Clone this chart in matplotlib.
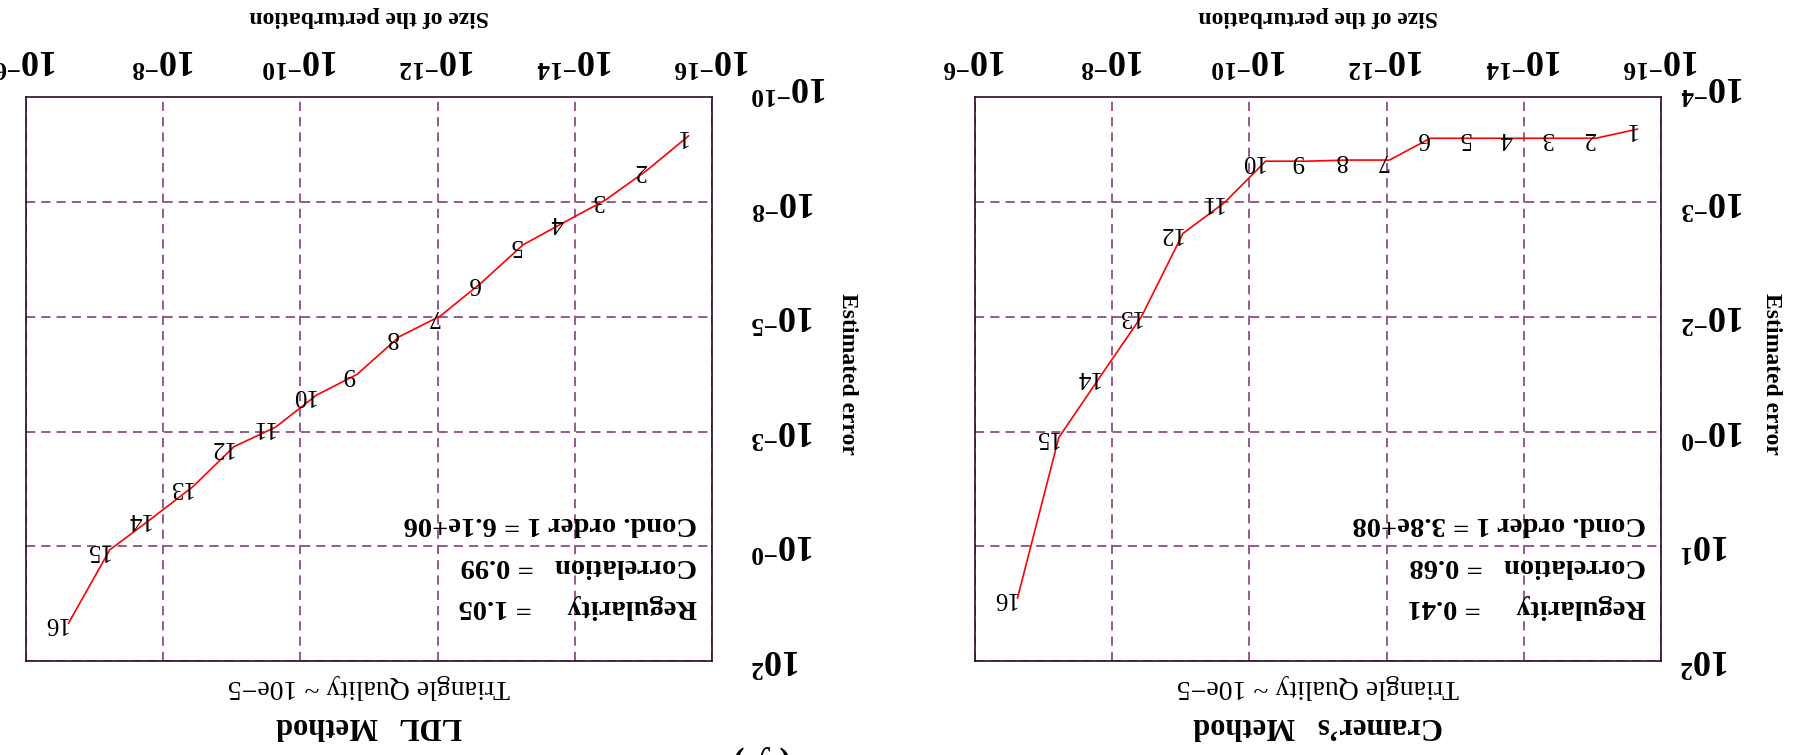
import matplotlib
matplotlib.use('Agg')
import matplotlib.pyplot as plt
import matplotlib.transforms as mtransforms
from matplotlib.ticker import NullLocator

# the whole page is printed upside down, so every text is turned by 180 degrees
plt.rcParams['font.family'] = ['Liberation Serif', 'DejaVu Serif']
plt.rcParams['mathtext.fontset'] = 'custom'
plt.rcParams['mathtext.rm'] = 'Liberation Serif:bold'
plt.rcParams['mathtext.it'] = 'Liberation Serif:bold'
plt.rcParams['mathtext.bf'] = 'Liberation Serif:bold'

# size of the perturbation for the 16 steps
perturbation = [2.2e-16, 8.9e-16, 3.6e-15, 1.4e-14, 5.7e-14, 2.3e-13, 9.1e-13, 3.6e-12,
                1.5e-11, 5.8e-11, 2.3e-10, 9.3e-10, 3.7e-09, 1.5e-08, 6.0e-08, 2.4e-07]
step_labels = [str(i) for i in range(1, 17)]

# estimated error, as position on the (unevenly labelled) error axis, 0 = lowest tick
cramer_err = [0.36, 0.44, 0.44, 0.44, 0.44, 0.44, 0.63, 0.63,
              0.64, 0.64, 1.00, 1.27, 1.99, 2.52, 3.05, 4.45]
ldl_err = [0.42, 0.72, 0.98, 1.17, 1.37, 1.70, 1.99, 2.17,
           2.50, 2.68, 2.96, 3.13, 3.48, 3.76, 4.03, 4.67]

x_ticks = [1e-16, 1e-14, 1e-12, 1e-10, 1e-08, 1e-06]
x_ticklabels = ['-16', '-14', '-12', '-10', '-8', '-6']
cramer_yticklabels = ['-4', '-3', '-2', '-0', '1', '2']
ldl_yticklabels = ['-10', '-8', '-5', '-3', '-0', '2']

cramer_stats = ['Regularity     = 0.41', 'Correlation   = 0.68', 'Cond. order 1 = 3.8e+08']
ldl_stats = ['Regularity     = 1.05', 'Correlation   = 0.99', 'Cond. order 1 = 6.1e+06']

GRID_COLOR = '#7b2d6e'
FRAME_COLOR = '#2e0a28'
W, H = 1794, 755


def power_label(exp):
    return r'$\mathbf{10^{%s}}$' % exp.replace('-', '\u2212')


def draw_panel(ax, err, yticklabels, stats, title, ypad):
    fig = ax.figure
    ax.plot(perturbation, err, color='red', linewidth=1.2, zorder=3)
    for x, y, lab in zip(perturbation, err, step_labels):
        ax.annotate(lab, (x, y), xytext=(-1, 0), textcoords='offset points',
                    ha='right', va='center', rotation=180, fontsize=18, zorder=4)

    # turned page: large x on the left, small error at the top
    ax.set_xscale('log')
    ax.set_xlim(1e-6, 1e-16)
    ax.set_ylim(5, 0.08)

    ax.set_xticks(x_ticks)
    ax.set_xticklabels([power_label(e) for e in x_ticklabels])
    ax.xaxis.set_minor_locator(NullLocator())
    ax.xaxis.tick_top()
    ax.set_yticks(range(1, 6))
    ax.set_yticklabels([power_label(e) for e in yticklabels[1:]])
    ax.yaxis.tick_right()
    ax.tick_params(axis='x', length=0, pad=17, labelsize=26)
    ax.tick_params(axis='y', length=0, pad=ypad, labelsize=26)
    plt.setp(ax.get_xticklabels(), rotation=180)
    plt.setp(ax.get_yticklabels(), rotation=180, va='center')

    # the superscript hangs below when turned, lift the labels a little
    lift = mtransforms.ScaledTranslation(0, 3 / 72, fig.dpi_scale_trans)
    for tick in ax.yaxis.get_major_ticks():
        tick.label2.set_transform(tick.label2.get_transform() + lift)

    # lowest error tick sits just outside the clipped frame
    trans = mtransforms.blended_transform_factory(ax.transAxes, ax.transData)
    off = mtransforms.ScaledTranslation(ypad / 72, 3 / 72, fig.dpi_scale_trans)
    ax.text(1.0, 0, power_label(yticklabels[0]), transform=trans + off,
            ha='left', va='center', rotation=180, fontsize=26, clip_on=False)

    ax.grid(True, color=GRID_COLOR, linestyle=(0, (6, 4)), linewidth=1.1)
    for sp in ax.spines.values():
        sp.set_color(FRAME_COLOR)
        sp.set_linewidth(1.2)

    for line, y in zip(stats, [0.0975, 0.170, 0.243]):
        ax.text(0.978, y, line, transform=ax.transAxes, ha='right', va='center',
                rotation=180, fontsize=20.5, fontweight='bold')

    pos = ax.get_position()
    xc = pos.x0 + pos.width / 2
    fig.text(xc, 1 - 17 / H, 'Size of the perturbation', ha='center', va='center',
             rotation=180, fontsize=17, fontweight='bold')
    fig.text(xc, 1 - 686 / H, 'Triangle Quality ~ 10e\u22125', ha='center', va='center',
             rotation=180, fontsize=20)
    fig.text(xc, 1 - 726 / H, title, ha='center', va='center',
             rotation=180, fontsize=22, fontweight='bold')


fig = plt.figure(figsize=(W / 100, H / 100), dpi=100)
ax_ldl = fig.add_axes([26 / W, 94 / H, 686 / W, 564 / H])
ax_cr = fig.add_axes([975 / W, 94 / H, 686 / W, 564 / H])

draw_panel(ax_ldl, ldl_err, ldl_yticklabels, ldl_stats, 'LDL   Method', 28)
draw_panel(ax_cr, cramer_err, cramer_yticklabels, cramer_stats, 'Cramer\u2019s   Method', 14)

fig.text(847 / W, 1 - 374 / H, 'Estimated error', ha='center', va='center',
         rotation=-90, fontsize=17, fontweight='bold')
fig.text(1771 / W, 1 - 374 / H, 'Estimated error', ha='center', va='center',
         rotation=-90, fontsize=17, fontweight='bold')

# caption of the page, mostly cut off by the bottom edge
fig.text(762 / W, 10 / H, '( y )', ha='center', va='top', rotation=180,
         fontsize=25, fontweight='bold')

fig.savefig('out.png', dpi=100, facecolor='white')
